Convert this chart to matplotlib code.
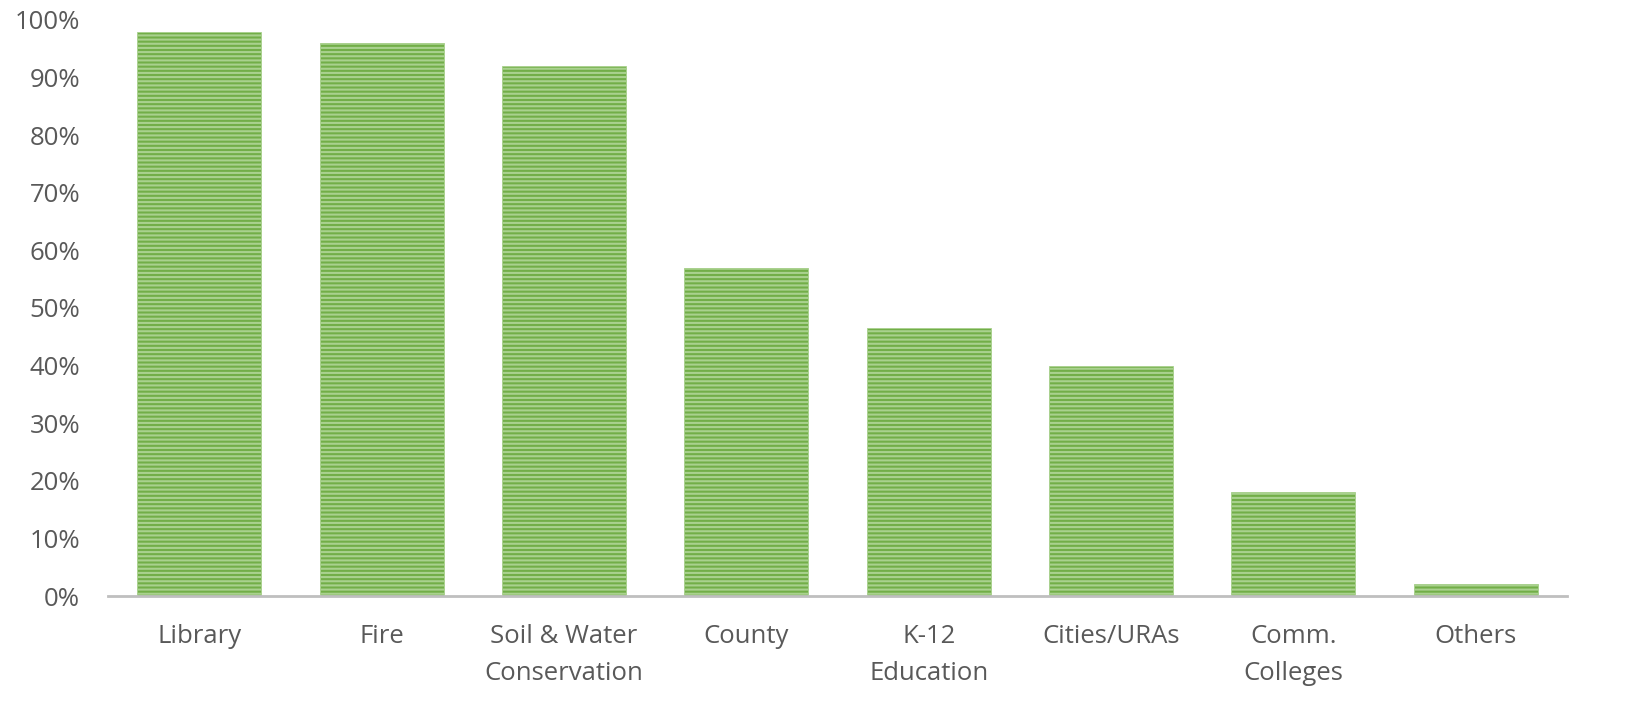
import numpy as np
import matplotlib.pyplot as plt

plt.rcParams['font.family'] = ['Open Sans', 'DejaVu Sans']
plt.rcParams['hatch.color'] = '#e2f0d9'
plt.rcParams['hatch.linewidth'] = 1.5

# data
categories = ['Library', 'Fire', 'Soil & Water\nConservation', 'County',
              'K-12\nEducation', 'Cities/URAs', 'Comm.\nColleges', 'Others']
values = [98, 96, 92, 57, 46.5, 40, 18, 2]

fig = plt.figure(figsize=(16.33, 7.16), dpi=100)
ax = fig.add_axes([108 / 1633, 1 - 596 / 716, 1459 / 1633, 576 / 716])

x = np.arange(len(categories))
ax.bar(x, values, width=0.68, color='#72ae48', edgecolor='#a9d18e',
       linewidth=0.6, hatch='----')

ax.set_xlim(-0.5, len(categories) - 0.5)
ax.set_ylim(0, 100)
ax.set_yticks(np.arange(0, 101, 10))
ax.set_yticklabels([f'{v}%' for v in range(0, 101, 10)])
ax.set_xticks(x)
ax.set_xticklabels(categories, linespacing=1.65)

for s in ['top', 'right', 'left']:
    ax.spines[s].set_visible(False)
ax.spines['bottom'].set_color('#bfbfbf')
ax.spines['bottom'].set_linewidth(2)
ax.tick_params(axis='both', length=0, labelsize=18.5, colors='#595959')
ax.tick_params(axis='x', pad=20)
ax.tick_params(axis='y', pad=20)

fig.savefig('out.png', dpi=100)
